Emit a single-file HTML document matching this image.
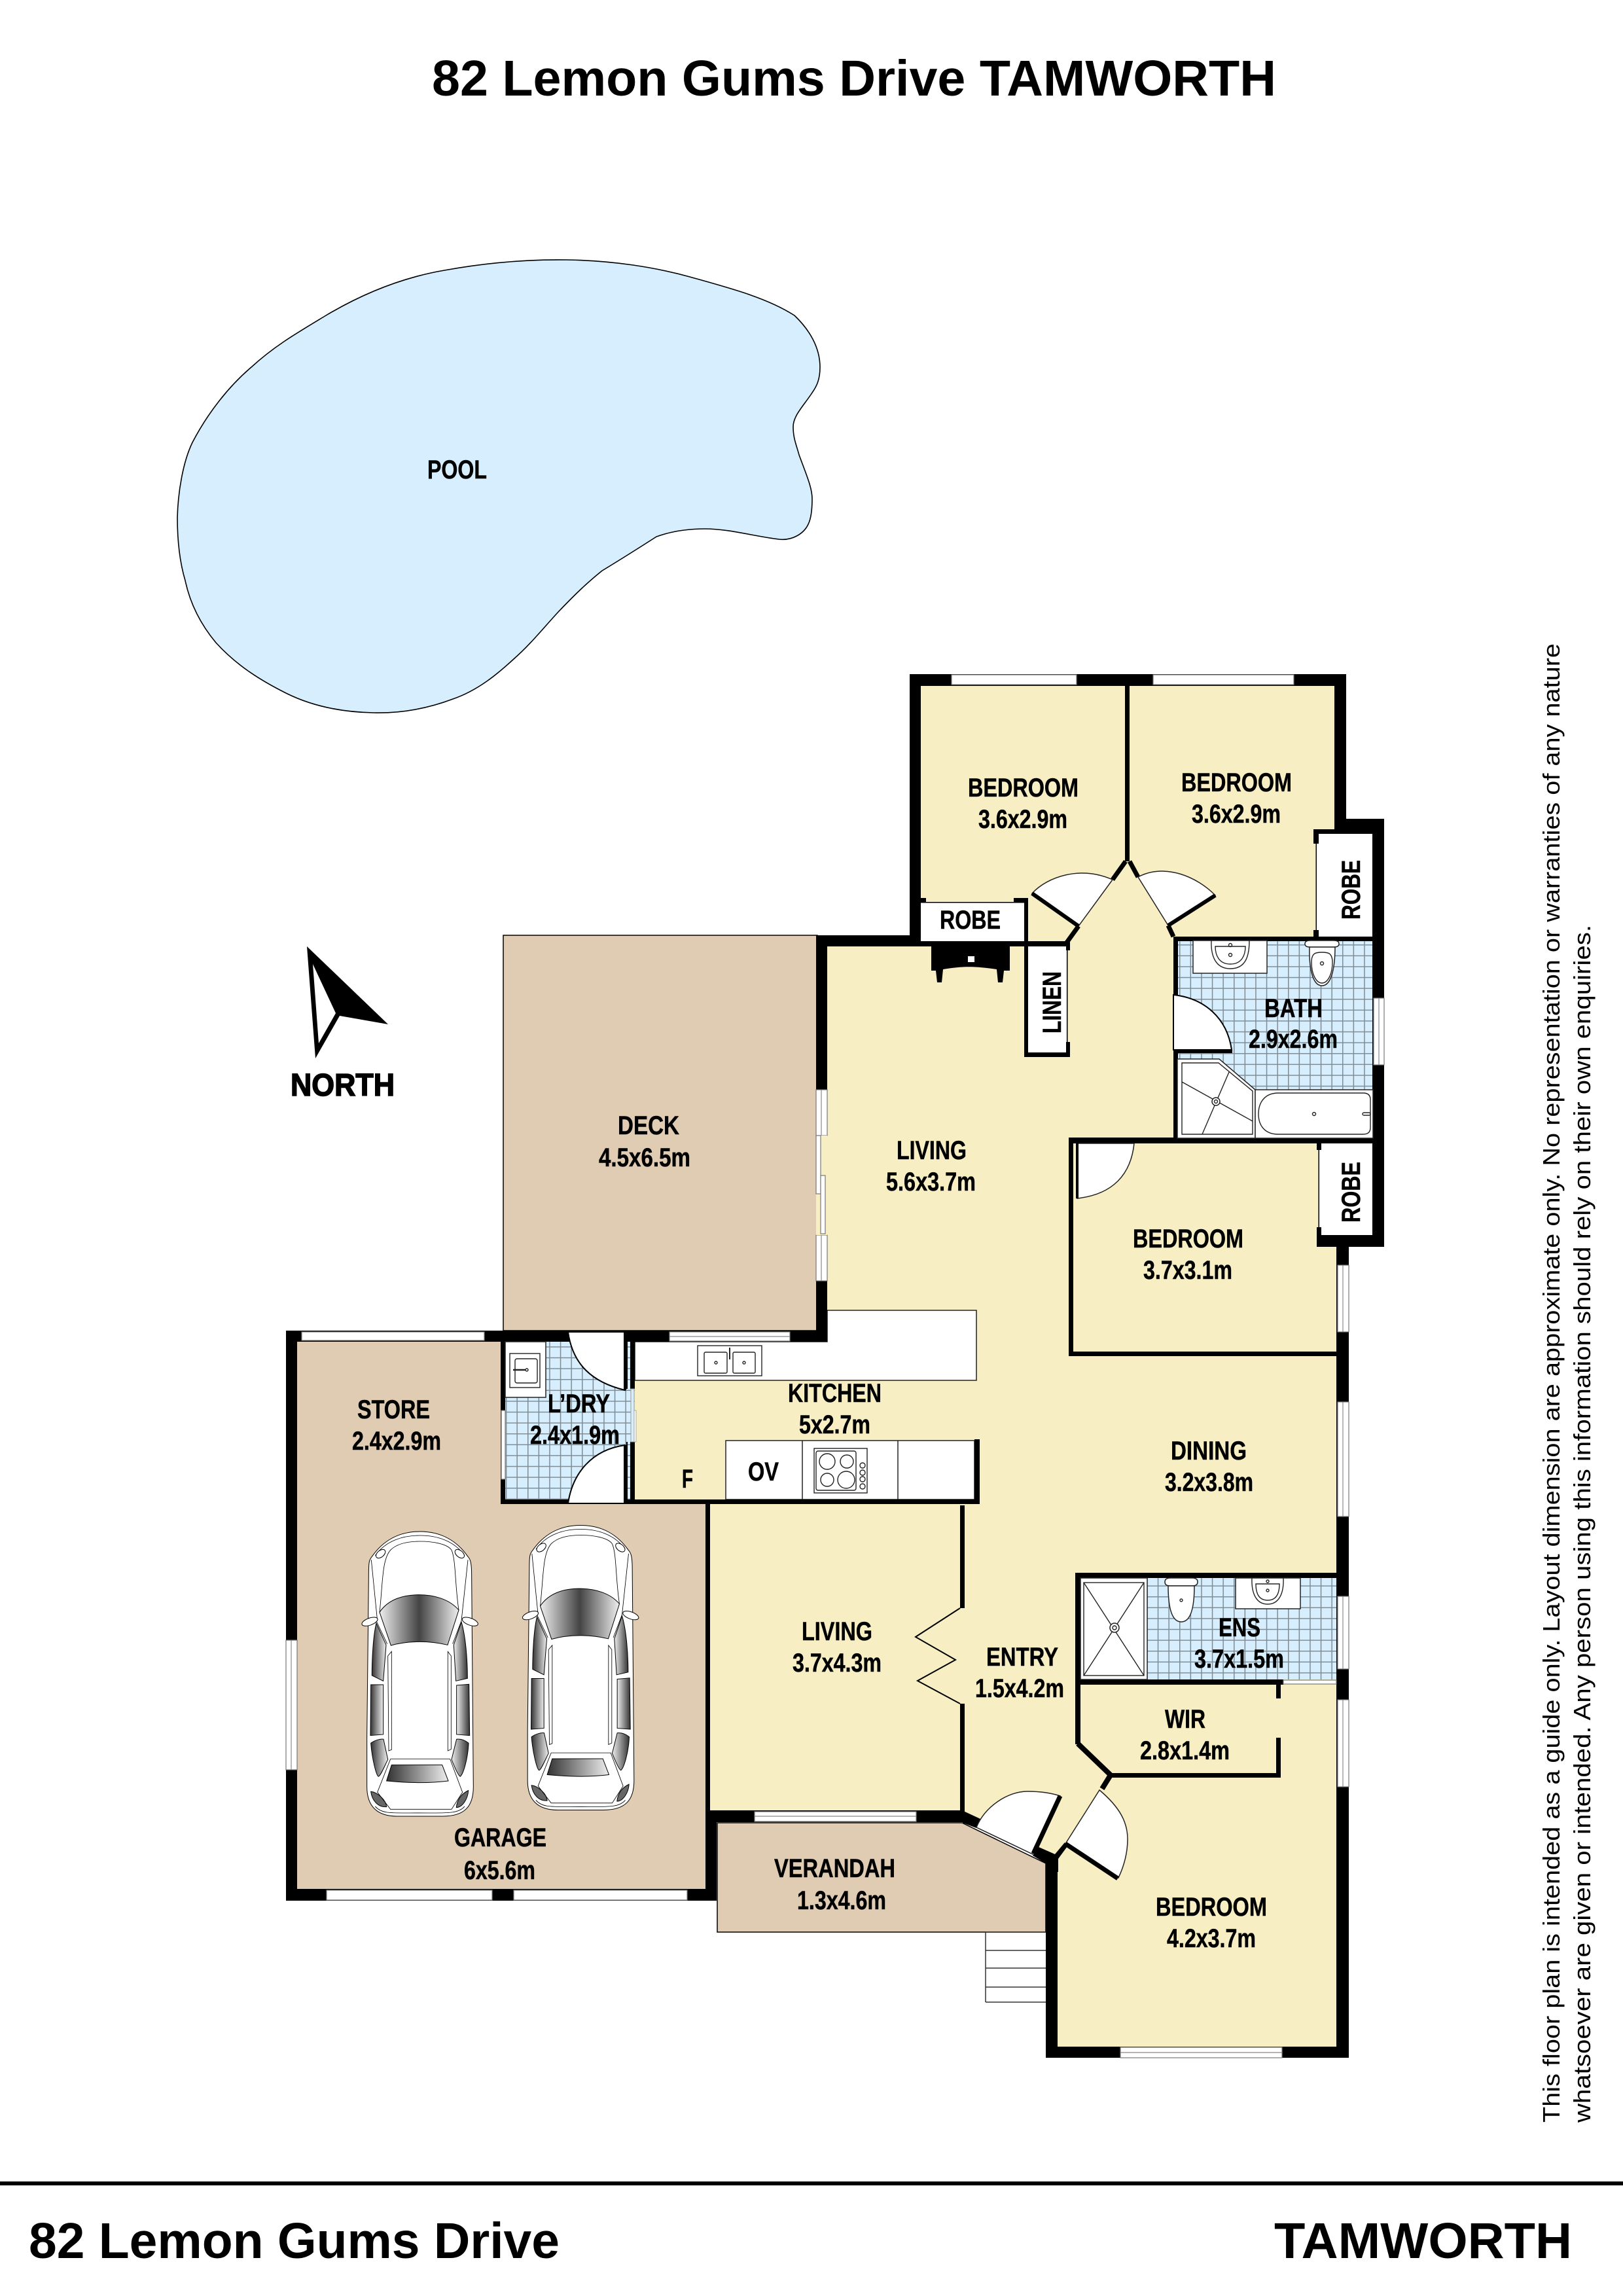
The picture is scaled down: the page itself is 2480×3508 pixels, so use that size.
<!DOCTYPE html>
<html><head><meta charset="utf-8"><title>82 Lemon Gums Drive TAMWORTH</title>
<style>
html,body{margin:0;padding:0;background:#fff}
svg{display:block}
text{font-family:"Liberation Sans",sans-serif;fill:#000}
.t{font-weight:700;font-size:40px;stroke:#000;stroke-width:.5px}
.h{font-weight:700;font-size:77px}
.s{font-size:36px}
.w{fill:#fff;stroke:#777;stroke-width:1.2}
.m{stroke:#888;stroke-width:1.2}
.f{fill:#fff;stroke:#222;stroke-width:1.5}
.l{fill:none;stroke:#222;stroke-width:1.4}
.lc{fill:none;stroke:#000;stroke-width:2.5}
</style></head><body>
<svg xmlns="http://www.w3.org/2000/svg" width="2480" height="3508" viewBox="0 0 2480 3508">
<defs>
<pattern id="tile" patternUnits="userSpaceOnUse" width="16.6" height="16.6" patternTransform="translate(9.2,15.4)">
<rect width="16.6" height="16.6" fill="#d6eefd"/><path d="M0 0H16.6M0 0V16.6" stroke="#808c94" stroke-width="3"/>
</pattern>
<linearGradient id="gW"><stop offset="0" stop-color="#eee"/><stop offset=".5" stop-color="#444"/><stop offset="1" stop-color="#eee"/></linearGradient>
<linearGradient id="gL"><stop offset="0" stop-color="#333"/><stop offset="1" stop-color="#eee"/></linearGradient>
<linearGradient id="gR"><stop offset="0" stop-color="#eee"/><stop offset="1" stop-color="#333"/></linearGradient>
<g id="car">
<path d="M305,60C200,60 130,110 85,175C72,190 70,200 70,260L62,1000L62,1230C62,1320 110,1365 200,1365L410,1365C510,1365 550,1320 550,1230L542,260C542,200 535,185 525,175C480,110 410,60 305,60Z" fill="#fff" stroke="#000" stroke-width="3"/>
<path d="M100,170C150,100 230,78 305,78C380,78 460,100 510,170M120,430C135,300 130,190 170,145C200,115 250,105 305,105C360,105 430,115 450,145C470,190 465,300 483,420M82,190L110,470M525,190L495,470M105,470L155,575M495,470L455,575M100,1320C130,1355 170,1350 300,1350C430,1350 480,1355 510,1320" fill="none" stroke="#000" stroke-width="2.5"/>
<path d="M120,430C160,370 230,350 300,350C370,350 440,370 483,420L432,580C350,560 250,560 172,582Z" fill="url(#gW)" stroke="#000" stroke-width="3"/>
<ellipse cx="75" cy="473" rx="38" ry="16" transform="rotate(-20 75 473)" fill="#fff" stroke="#000" stroke-width="3"/>
<ellipse cx="535" cy="473" rx="38" ry="16" transform="rotate(20 535 473)" fill="#fff" stroke="#000" stroke-width="3"/>
<ellipse cx="125" cy="162" rx="25" ry="15" transform="rotate(-40 125 162)" fill="#fff" stroke="#000" stroke-width="3"/>
<ellipse cx="487" cy="162" rx="25" ry="15" transform="rotate(40 487 162)" fill="#fff" stroke="#000" stroke-width="3"/>
<path d="M158,630L175,610L175,1060L162,1065ZM433,610L448,630L448,1058L433,1065Z" fill="#fff" stroke="#000" stroke-width="2.5"/>
<g stroke="#000" stroke-width="3">
<path d="M105,480C90,540 85,650 85,720L137,745L150,580Z" fill="url(#gL)"/>
<path d="M80,762L137,762L137,990L78,995Z" fill="url(#gL)"/>
<path d="M80,1030C100,1015 125,1010 138,1012L158,1105C145,1130 125,1180 115,1183C105,1180 85,1100 80,1030Z" fill="url(#gL)"/>
<path d="M495,475C515,540 523,650 523,733L470,745L460,580Z" fill="url(#gR)"/>
<path d="M473,765L530,760L533,995L473,990Z" fill="url(#gR)"/>
<path d="M528,1030C510,1015 490,1010 473,1012L450,1105C460,1130 480,1180 490,1183C505,1170 525,1100 528,1030Z" fill="url(#gR)"/>
<path d="M175,1130L407,1130L435,1203C340,1215 250,1212 152,1203Z" fill="url(#gL)"/>
<path d="M80,1252C110,1255 150,1290 152,1322C110,1325 85,1290 80,1252Z" fill="#666"/>
<path d="M527,1247C525,1285 500,1325 472,1325C475,1290 495,1262 527,1247Z" fill="#666"/>
</g>
<path d="M170,1103L110,1255L170,1333L450,1333L500,1255L443,1103Z" fill="none" stroke="#000" stroke-width="2.5"/>
</g>
</defs>

<!-- pool -->
<path d="M271,791C272,750 280,705 294,676C318,630 350,590 384,561C420,528 455,508 498,482C555,448 615,424 679,413C740,402 800,396 866,397C935,398 1000,408 1054,423C1115,440 1172,455 1214,482C1236,503 1253,530 1253,561C1253,580 1248,590 1241,600C1228,620 1212,635 1212,652C1212,670 1217,680 1221,695C1232,725 1241,745 1241,762C1241,785 1238,795 1235,801C1228,816 1210,826 1191,824C1155,820 1115,808 1077,808C1050,808 1025,812 1003,820C975,838 948,855 920,872C895,892 875,912 853,935C830,960 810,985 786,1006C760,1030 730,1055 692,1068C655,1082 615,1090 571,1089C520,1088 475,1078 437,1059C395,1038 360,1015 330,982C305,952 290,920 283,887C275,860 271,830 271,791Z" fill="#d6eefd" stroke="#000" stroke-width="1.6"/>

<!-- fills -->
<rect x="769" y="1429" width="480" height="604" fill="#e0cbb3" stroke="#000" stroke-width="1.5"/>
<path d="M454,2045H765V2298H1078V2886H454Z" fill="#e0cbb3"/>
<path d="M1096,2785H1470L1598,2847V2952H1096Z" fill="#e0cbb3" stroke="#000" stroke-width="1.5"/>
<path d="M1400,1040H2050V1262H2105V1895H2050V3135H1607V2847L1474,2775H1085V2298H970V2050H1256V1440H1400Z" fill="#f8eec3"/>

<!-- steps -->
<path d="M1506,2952H1599M1506,2980H1599M1506,3007H1599M1506,3036H1599M1506,3059H1599M1506,2952V3059" stroke="#333" stroke-width="1.5" fill="none"/>

<!-- tiles -->
<rect x="1793" y="1431" width="305" height="308" fill="url(#tile)"/>
<rect x="772" y="2050" width="198" height="241" fill="url(#tile)"/>
<rect x="1753" y="2410" width="289" height="156" fill="url(#tile)"/>

<!-- white closets -->
<rect x="1407" y="1379" width="158" height="59" fill="#fff"/>
<rect x="2012" y="1274" width="85" height="157" fill="#fff"/>
<rect x="2016" y="1747" width="81" height="140" fill="#fff"/>
<rect x="1571" y="1446" width="58" height="162" fill="#fff"/>
<path d="M970,2050H1264V2002H1492V2109H970Z" class="f"/>
<rect x="1109" y="2201" width="380" height="90" class="f"/>
<path d="M1226,2201V2291M1372,2201V2291" stroke="#222" stroke-width="1.5"/>

<!-- walls -->
<g fill="#000">
<rect x="1390" y="1030" width="667" height="18"/>
<rect x="1390" y="1030" width="17" height="416"/>
<rect x="2039" y="1030" width="18" height="237"/>
<rect x="1719" y="1030" width="7" height="286"/>
<rect x="1407" y="1378" width="158" height="1.5"/>
<rect x="1407" y="1372" width="8" height="7"/>
<rect x="1549" y="1372" width="22" height="7"/>
<rect x="1565" y="1372" width="6" height="74"/>
<rect x="1247" y="1429" width="160" height="17"/>
<rect x="1407" y="1438" width="223" height="8"/>
<rect x="1247" y="1429" width="17" height="621"/>
<rect x="1565" y="1446" width="6" height="169"/>
<rect x="1565" y="1608" width="70" height="7"/>
<rect x="1629" y="1438" width="6" height="14"/>
<rect x="1629" y="1592" width="6" height="22"/>
<rect x="1630" y="1446" width="1.5" height="168"/>
<rect x="1793" y="1431" width="322" height="7"/>
<rect x="2097" y="1251" width="18" height="654"/>
<rect x="2039" y="1251" width="76" height="23"/>
<rect x="2007" y="1267" width="32" height="7"/>
<rect x="2010.5" y="1274" width="1.5" height="157"/>
<rect x="2007" y="1267" width="8" height="22"/>
<rect x="2007" y="1421" width="8" height="12"/>
<rect x="1793" y="1431" width="7" height="90"/>
<rect x="1793" y="1604" width="7" height="135"/>
<rect x="1633" y="1738" width="482" height="9"/>
<rect x="1633" y="1738" width="7" height="334"/>
<rect x="1633" y="2065" width="410" height="7"/>
<rect x="2012" y="1887" width="103" height="18"/>
<rect x="2012" y="1747" width="7" height="10"/>
<rect x="2012" y="1875" width="7" height="14"/>
<rect x="2014.5" y="1747" width="1.5" height="140"/>
<rect x="2042" y="1905" width="19" height="1239"/>
<rect x="1643" y="2403" width="399" height="8"/>
<rect x="1643" y="2403" width="8" height="262"/>
<rect x="1643" y="2566" width="318" height="8"/>
<rect x="1696" y="2709" width="261" height="7"/>
<rect x="1950" y="2655" width="7" height="61"/>
<rect x="1950" y="2574" width="7" height="21"/>
<rect x="1467" y="2300" width="7" height="157"/>
<rect x="1467" y="2603" width="7" height="166"/>
<rect x="1598" y="2847" width="18" height="297"/>
<rect x="1598" y="3127" width="463" height="17"/>
<rect x="1078" y="2766" width="394" height="18"/>
<rect x="1078" y="2766" width="17" height="138"/>
<rect x="1078" y="2298" width="7" height="470"/>
<rect x="437" y="2886" width="658" height="18"/>
<rect x="437" y="2033" width="17" height="871"/>
<rect x="437" y="2033" width="827" height="17"/>
<rect x="765" y="2050" width="7" height="248"/>
<rect x="765" y="2291" width="732" height="7"/>
<rect x="1489" y="2199" width="8" height="99"/>
<rect x="963" y="2050" width="7" height="72"/>
<rect x="957" y="2050" width="2" height="72"/>
<rect x="963" y="2203" width="7" height="95"/>
<rect x="957" y="2203" width="2" height="95"/>
<path d="M1470,2766L1498,2779L1492,2793L1471,2785Z"/>
<path d="M1587,2822L1612,2833L1627,2815L1631,2821L1617,2840V2860H1598V2847L1578,2835Z"/>
</g>
<g stroke="#000" stroke-width="7" fill="none">
<path d="M1700,1344L1720,1316M1648,1415L1630,1440M1726,1316L1739,1340M1785,1414L1793,1431"/>
<path d="M1647,2664L1697,2712" stroke-width="8"/>
<path d="M1697,2712L1684,2733" stroke-width="8"/>
</g>

<!-- doors -->
<path d="M1648,1415L1577,1365C1600,1340 1650,1322 1700,1344Z" class="f"/>
<path d="M1648,1415L1577,1365" stroke="#000" stroke-width="6"/>
<path d="M1785,1414L1857,1368C1830,1340 1780,1318 1739,1340Z" class="f"/>
<path d="M1785,1414L1857,1368" stroke="#000" stroke-width="6"/>
<path d="M1793,1520C1840,1525 1875,1555 1882,1604H1793Z" fill="#fff" stroke="#000" stroke-width="2"/>
<rect x="1793" y="1604" width="90" height="5"/>
<path d="M1646,1747V1831C1700,1825 1728,1795 1733,1747Z" class="f"/>
<rect x="1644" y="1743" width="4" height="88"/>
<path d="M868,2035H955V2124C905,2112 875,2085 868,2035Z" fill="#fff" stroke="#000" stroke-width="2"/>
<rect x="953" y="2035" width="4" height="89"/>
<path d="M955,2208V2297H868C875,2250 905,2215 955,2208Z" fill="#fff" stroke="#000" stroke-width="2"/>
<rect x="953" y="2208" width="4" height="90"/>
<path d="M1492,2792L1578,2833L1620,2744C1605,2739 1590,2737 1570,2737C1540,2737 1505,2760 1492,2792Z" class="f"/>
<path d="M1579,2832L1620,2744" stroke="#000" stroke-width="7"/>
<path d="M1628,2817L1680,2735C1712,2762 1723,2785 1723,2810C1723,2830 1718,2850 1709,2869Z" class="f"/>
<path d="M1628,2817L1708,2870" stroke="#000" stroke-width="7"/>
<path d="M1467,2457L1399,2501L1460,2536L1402,2568L1467,2603" fill="none" stroke="#000" stroke-width="2"/>

<!-- fireplace -->
<path d="M1423,1446H1543V1483H1534L1532,1501H1525L1523,1481C1490,1476 1470,1476 1441,1481L1439,1501H1432L1430,1483H1423Z"/>
<rect x="1479" y="1461" width="10" height="9" fill="#fff"/>

<!-- windows -->
<g>
<rect x="1454" y="1031" width="191" height="15" class="w"/>
<rect x="1762" y="1031" width="215" height="15" class="w"/>
<rect x="2099" y="1525" width="16" height="102" class="w"/><path d="M2107,1525V1627" class="m"/>
<rect x="2044" y="1933" width="17" height="102" class="w"/><path d="M2052,1933V2035" class="m"/>
<rect x="2044" y="2142" width="17" height="175" class="w"/><path d="M2052,2142V2317" class="m"/>
<rect x="2044" y="2439" width="17" height="111" class="w"/><path d="M2052,2439V2550" class="m"/>
<rect x="2044" y="2597" width="17" height="133" class="w"/><path d="M2052,2597V2730" class="m"/>
<rect x="1712" y="3128" width="247" height="16" class="w"/><path d="M1712,3136H1959" class="m"/>
<rect x="1153" y="2768" width="247" height="15" class="w"/><path d="M1153,2775H1400" class="m"/>
<rect x="461" y="2035" width="279" height="13" class="w"/>
<rect x="1023" y="2035" width="184" height="14" class="w"/><path d="M1023,2042H1207" class="m"/>
<rect x="437" y="2506" width="17" height="198" class="w"/><path d="M445,2506V2704" class="m"/>
<rect x="499" y="2888" width="253" height="15" class="w"/>
<rect x="785" y="2888" width="265" height="15" class="w"/>
<rect x="1247" y="1665" width="17" height="70" class="w"/><path d="M1255,1665V1735" class="m"/>
<rect x="1247" y="1887" width="17" height="70" class="w"/><path d="M1255,1887V1957" class="m"/>
<rect x="1247" y="1735" width="17" height="152" fill="#f8eec3"/>
<rect x="1247" y="1735" width="7" height="89" class="w"/>
<rect x="1254" y="1796" width="7" height="89" class="w"/>
<rect x="766" y="2155" width="6" height="105" class="w"/>
<rect x="964" y="2122" width="5" height="81" fill="#d6eefd" stroke="#999"/>
<rect x="969" y="2155" width="3" height="48" fill="#fff" stroke="#999" stroke-width=".8"/>
<rect x="1961" y="2567" width="81" height="6" class="w"/>
</g>

<!-- bath fixtures -->
<rect x="1823" y="1437" width="113" height="50" class="f"/>
<path d="M1851,1437C1850,1460 1857,1480 1880,1480C1904,1480 1909,1460 1909,1437" class="l"/>
<path d="M1857,1446H1903C1903,1460 1897,1473 1880,1473C1863,1473 1857,1460 1857,1446Z" class="l"/>
<circle cx="1880" cy="1444" r="2.5" class="l"/><circle cx="1880" cy="1459" r="2.5" class="l"/>
<path d="M1994,1442Q1994,1437 2002,1437H2038Q2046,1437 2046,1442Q2046,1447 2038,1447H2002Q1994,1447 1994,1442Z" class="f"/>
<path d="M2001,1447C2000,1480 2006,1506 2020,1506C2034,1506 2040,1480 2040,1447Z" class="f"/>
<path d="M2004,1470C2004,1455 2012,1455 2020,1455C2028,1455 2036,1455 2036,1470C2036,1490 2028,1502 2020,1502C2012,1502 2004,1490 2004,1470Z" class="l"/>
<circle cx="2020" cy="1472" r="2.5" class="l"/>
<path d="M1799,1618H1863L1918,1665V1739H1799Z" class="f"/>
<path d="M1806,1624H1862L1914,1667V1733H1806Z" class="l"/>
<path d="M1806,1653L1914,1713M1878,1638L1837,1733" class="l"/>
<circle cx="1858" cy="1683" r="6" class="f"/><circle cx="1858" cy="1683" r="2.5" class="l"/>
<rect x="1918" y="1665" width="180" height="74" class="f"/>
<path d="M1953,1670H2083Q2094,1670 2094,1680V1723Q2094,1733 2083,1733H1953C1933,1733 1923,1720 1923,1702C1923,1684 1933,1670 1953,1670Z" class="l"/>
<circle cx="2008" cy="1702" r="2.5" class="l"/><rect x="2082" y="1700" width="12" height="4" rx="2" class="l"/>

<!-- ensuite fixtures -->
<rect x="1651" y="2411" width="102" height="155" class="f"/>
<rect x="1656" y="2418" width="92" height="142" class="l"/>
<path d="M1656,2418L1748,2560M1748,2418L1656,2560" class="l"/>
<circle cx="1703" cy="2487" r="7" class="f"/><circle cx="1703" cy="2487" r="3" class="l"/>
<path d="M1780,2417Q1780,2411 1788,2411H1822Q1830,2411 1830,2417Q1830,2423 1822,2423H1788Q1780,2423 1780,2417Z" class="f"/>
<path d="M1785,2423C1785,2460 1792,2478 1805,2478C1818,2478 1825,2460 1825,2423Z" class="f"/>
<circle cx="1805" cy="2445" r="2" class="l"/>
<rect x="1888" y="2411" width="99" height="47" class="f"/>
<path d="M1913,2411C1912,2435 1920,2451 1937,2451C1954,2451 1962,2435 1961,2411" class="l"/>
<path d="M1919,2420H1955C1955,2435 1950,2445 1937,2445C1924,2445 1919,2435 1919,2420Z" class="l"/>
<circle cx="1937" cy="2416" r="2" class="l"/><circle cx="1937" cy="2430" r="2" class="l"/>

<!-- laundry & kitchen fixtures -->
<rect x="772" y="2050" width="62" height="85" class="f"/>
<rect x="779" y="2068" width="46" height="52" class="l"/>
<rect x="787" y="2076" width="34" height="37" rx="3" class="l"/>
<path d="M784,2093H803" stroke="#222" stroke-width="2.5"/><circle cx="805" cy="2093" r="2" class="l"/>
<rect x="1066" y="2056" width="98" height="46" class="l" fill="#fff"/>
<rect x="1076" y="2066" width="35" height="32" rx="2" class="l"/>
<rect x="1120" y="2066" width="34" height="32" rx="2" class="l"/>
<circle cx="1094" cy="2082" r="2" class="l"/><circle cx="1137" cy="2082" r="2" class="l"/>
<path d="M1115,2059V2077" stroke="#222" stroke-width="2"/>
<rect x="1244" y="2213" width="81" height="68" class="l"/>
<rect x="1247" y="2217" width="61" height="60" rx="3" class="l"/>
<circle cx="1264" cy="2233" r="12" class="l"/><circle cx="1294" cy="2233" r="10" class="l"/>
<circle cx="1264" cy="2261" r="10" class="l"/><circle cx="1293" cy="2261" r="13" class="l"/>
<circle cx="1318" cy="2239" r="4" class="l"/><circle cx="1318" cy="2250" r="4" class="l"/><circle cx="1318" cy="2260" r="4" class="l"/><circle cx="1318" cy="2271" r="4" class="l"/>

<!-- cars -->
<use href="#car" transform="translate(540,2320) scale(.3333)"/>
<use href="#car" transform="translate(785.5,2310.5) scale(.3333)"/>

<!-- north -->
<path d="M469,1446L593,1565L519,1552L482,1617Z"/>
<path d="M478,1473L513,1548L487,1594Z" fill="#fff"/>
<text x="444" y="1674" font-size="48" font-weight="700" textLength="159" lengthAdjust="spacingAndGlyphs" stroke="#000" stroke-width="1.6">NORTH</text>

<!-- title & footer -->
<text class="h" x="660" y="146" textLength="1290" lengthAdjust="spacingAndGlyphs">82 Lemon Gums Drive TAMWORTH</text>
<rect x="0" y="3333" width="2480" height="6"/>
<text class="h" x="44" y="3450" textLength="811" lengthAdjust="spacingAndGlyphs">82 Lemon Gums Drive</text>
<text class="h" x="1947" y="3450" textLength="455" lengthAdjust="spacingAndGlyphs">TAMWORTH</text>
<text class="s" transform="translate(2383,3243) rotate(-90)" textLength="2260" lengthAdjust="spacingAndGlyphs">This floor plan is intended as a guide only. Layout dimension are approximate only. No representation or warranties of any nature</text>
<text class="s" transform="translate(2430,3243) rotate(-90)" textLength="1830" lengthAdjust="spacingAndGlyphs">whatsoever are given or intended. Any person using this information should rely on their own enquiries.</text>

<!-- labels -->
<text class="t" x="653" y="731" textLength="91" lengthAdjust="spacingAndGlyphs">POOL</text>
<text class="t" x="1479" y="1217" textLength="169" lengthAdjust="spacingAndGlyphs">BEDROOM</text>
<text class="t" x="1495" y="1265" textLength="136" lengthAdjust="spacingAndGlyphs">3.6x2.9m</text>
<text class="t" x="1805" y="1209" textLength="169" lengthAdjust="spacingAndGlyphs">BEDROOM</text>
<text class="t" x="1821" y="1257" textLength="136" lengthAdjust="spacingAndGlyphs">3.6x2.9m</text>
<text class="t" x="1436" y="1419" textLength="93" lengthAdjust="spacingAndGlyphs">ROBE</text>
<text class="t" transform="translate(1621,1579) rotate(-90)" textLength="95" lengthAdjust="spacingAndGlyphs">LINEN</text>
<text class="t" transform="translate(2078,1405) rotate(-90)" textLength="91" lengthAdjust="spacingAndGlyphs">ROBE</text>
<text class="t" transform="translate(2078,1868) rotate(-90)" textLength="93" lengthAdjust="spacingAndGlyphs">ROBE</text>
<text class="t" x="1932" y="1554" textLength="89" lengthAdjust="spacingAndGlyphs">BATH</text>
<text class="t" x="1908" y="1601" textLength="136" lengthAdjust="spacingAndGlyphs">2.9x2.6m</text>
<text class="t" x="1370" y="1771" textLength="107" lengthAdjust="spacingAndGlyphs">LIVING</text>
<text class="t" x="1354" y="1819" textLength="137" lengthAdjust="spacingAndGlyphs">5.6x3.7m</text>
<text class="t" x="1731" y="1906" textLength="169" lengthAdjust="spacingAndGlyphs">BEDROOM</text>
<text class="t" x="1747" y="1954" textLength="136" lengthAdjust="spacingAndGlyphs">3.7x3.1m</text>
<text class="t" x="944" y="1733" textLength="94" lengthAdjust="spacingAndGlyphs">DECK</text>
<text class="t" x="915" y="1782" textLength="140" lengthAdjust="spacingAndGlyphs">4.5x6.5m</text>
<text class="t" x="1204" y="2142" textLength="143" lengthAdjust="spacingAndGlyphs">KITCHEN</text>
<text class="t" x="1221" y="2190" textLength="109" lengthAdjust="spacingAndGlyphs">5x2.7m</text>
<text class="t" x="837" y="2158" textLength="95" lengthAdjust="spacingAndGlyphs">L’DRY</text>
<text class="t" x="810" y="2206" textLength="137" lengthAdjust="spacingAndGlyphs">2.4x1.9m</text>
<text class="t" x="1042" y="2273" textLength="17" lengthAdjust="spacingAndGlyphs">F</text>
<text class="t" x="1143" y="2262" textLength="47" lengthAdjust="spacingAndGlyphs">OV</text>
<text class="t" x="546" y="2167" textLength="111" lengthAdjust="spacingAndGlyphs">STORE</text>
<text class="t" x="538" y="2215" textLength="136" lengthAdjust="spacingAndGlyphs">2.4x2.9m</text>
<text class="t" x="1225" y="2506" textLength="108" lengthAdjust="spacingAndGlyphs">LIVING</text>
<text class="t" x="1211" y="2554" textLength="136" lengthAdjust="spacingAndGlyphs">3.7x4.3m</text>
<text class="t" x="694" y="2821" textLength="141" lengthAdjust="spacingAndGlyphs">GARAGE</text>
<text class="t" x="709" y="2871" textLength="109" lengthAdjust="spacingAndGlyphs">6x5.6m</text>
<text class="t" x="1183" y="2868" textLength="185" lengthAdjust="spacingAndGlyphs">VERANDAH</text>
<text class="t" x="1218" y="2917" textLength="136" lengthAdjust="spacingAndGlyphs">1.3x4.6m</text>
<text class="t" x="1789" y="2230" textLength="116" lengthAdjust="spacingAndGlyphs">DINING</text>
<text class="t" x="1780" y="2278" textLength="135" lengthAdjust="spacingAndGlyphs">3.2x3.8m</text>
<text class="t" x="1507" y="2545" textLength="110" lengthAdjust="spacingAndGlyphs">ENTRY</text>
<text class="t" x="1490" y="2593" textLength="136" lengthAdjust="spacingAndGlyphs">1.5x4.2m</text>
<text class="t" x="1862" y="2500" textLength="64" lengthAdjust="spacingAndGlyphs">ENS</text>
<text class="t" x="1825" y="2548" textLength="137" lengthAdjust="spacingAndGlyphs">3.7x1.5m</text>
<text class="t" x="1780" y="2640" textLength="62" lengthAdjust="spacingAndGlyphs">WIR</text>
<text class="t" x="1742" y="2688" textLength="137" lengthAdjust="spacingAndGlyphs">2.8x1.4m</text>
<text class="t" x="1766" y="2927" textLength="170" lengthAdjust="spacingAndGlyphs">BEDROOM</text>
<text class="t" x="1783" y="2975" textLength="136" lengthAdjust="spacingAndGlyphs">4.2x3.7m</text>
</svg>
</body></html>
